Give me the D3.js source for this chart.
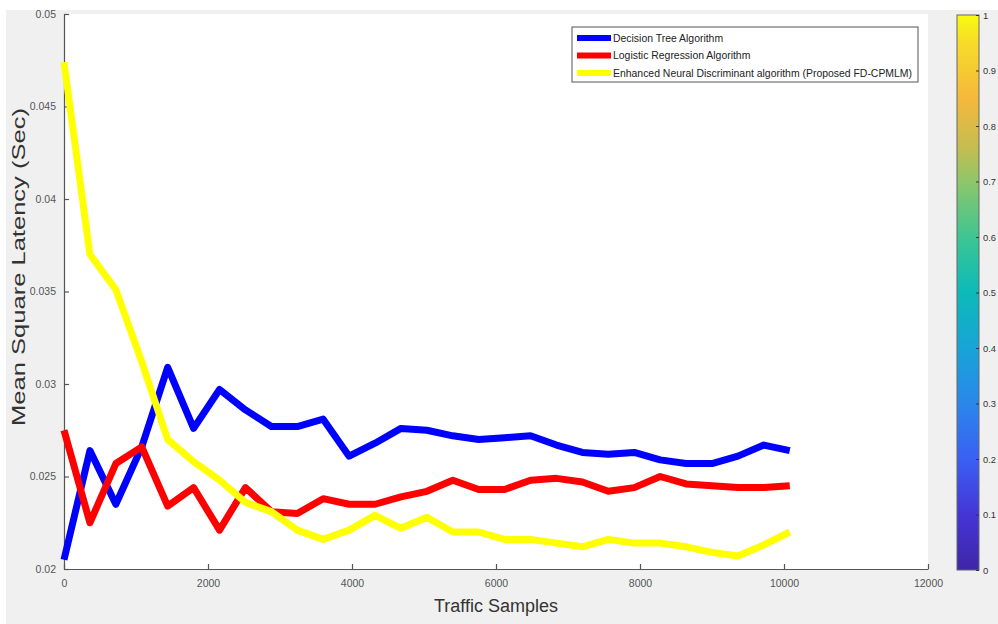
<!DOCTYPE html>
<html>
<head>
<meta charset="utf-8">
<script src="https://cdn.jsdelivr.net/npm/d3@7"></script>
<style>
    body { margin: 0; background: #ffffff; }
    svg { display: block; font-family: "Liberation Sans", Arial, sans-serif; }
</style>
</head>
<body>
<div id="plot"></div>
<script>
const samples = [0, 360, 720, 1080, 1440, 1800, 2160, 2520, 2880, 3240, 3600, 3960, 4320, 4680,
    5040, 5400, 5760, 6120, 6480, 6840, 7200, 7560, 7920, 8280, 8640, 9000, 9360, 9720, 10080];

const decisionTree = [0.0205, 0.0264, 0.0235, 0.0266, 0.0309, 0.0276, 0.0297, 0.0286, 0.0277, 0.0277,
    0.0281, 0.0261, 0.0268, 0.0276, 0.0275, 0.0272, 0.0270, 0.0271, 0.0272, 0.0267, 0.0263, 0.0262,
    0.0263, 0.0259, 0.0257, 0.0257, 0.0261, 0.0267, 0.0264];

const logisticRegression = [0.0275, 0.0225, 0.0257, 0.0266, 0.0234, 0.0244, 0.0221, 0.0244, 0.0231, 0.0230,
    0.0238, 0.0235, 0.0235, 0.0239, 0.0242, 0.0248, 0.0243, 0.0243, 0.0248, 0.0249, 0.0247, 0.0242,
    0.0244, 0.0250, 0.0246, 0.0245, 0.0244, 0.0244, 0.0245];

const enhancedNeural = [0.0474, 0.0370, 0.0351, 0.0312, 0.0270, 0.0258, 0.0248, 0.0236, 0.0231, 0.0221,
    0.0216, 0.0221, 0.0229, 0.0222, 0.0228, 0.0220, 0.0220, 0.0216, 0.0216, 0.0214, 0.0212, 0.0216,
    0.0214, 0.0214, 0.0212, 0.0209, 0.0207, 0.0213, 0.0220];

const seriesNames = [
    "Decision Tree Algorithm",
    "Logistic Regression Algorithm",
    "Enhanced Neural Discriminant algorithm (Proposed FD-CPMLM)"
];
const seriesColors = ["#0000ff", "#ff0000", "#ffff00"];

const xTicks = [0, 2000, 4000, 6000, 8000, 10000, 12000];
const yTicks = [0.02, 0.025, 0.03, 0.035, 0.04, 0.045, 0.05];
const colorbarTicks = [0, 0.1, 0.2, 0.3, 0.4, 0.5, 0.6, 0.7, 0.8, 0.9, 1];

// parula-like stops for the colour bar
const parulaStops = [
    [0.0, "#3e26a8"], [0.1, "#4535d6"], [0.2, "#3a60f3"], [0.3, "#2a87ea"],
    [0.4, "#18a4d7"], [0.5, "#0cbab8"], [0.6, "#3ec593"], [0.7, "#8ec66a"],
    [0.76, "#c4bd50"], [0.85, "#f5b83c"], [0.95, "#f6dc2a"], [1.0, "#f9fb0e"]
];

const width = 998;
const height = 624;
const plot = { left: 64, top: 14, right: 928, bottom: 569 };
const axisColor = "#555555";

const svg = d3.select("#plot")
    .append("svg")
    .attr("width", width)
    .attr("height", height);

// figure background
svg.append("rect")
    .attr("x", 6).attr("y", 10)
    .attr("width", width - 6).attr("height", height - 10)
    .attr("fill", "#f0f0f0");

svg.append("rect")
    .attr("x", plot.left).attr("y", plot.top)
    .attr("width", plot.right - plot.left)
    .attr("height", plot.bottom - plot.top)
    .attr("fill", "#ffffff");

const x = d3.scaleLinear().domain([0, 12000]).range([plot.left, plot.right]);
const y = d3.scaleLinear().domain([0.02, 0.05]).range([plot.bottom, plot.top]);

const xAxis = svg.append("g")
    .attr("transform", `translate(0,${plot.bottom})`)
    .call(d3.axisBottom(x).tickValues(xTicks).tickFormat(d3.format("d"))
        .tickSizeInner(-5).tickSizeOuter(0).tickPadding(11));

const yAxis = svg.append("g")
    .attr("transform", `translate(${plot.left},0)`)
    .call(d3.axisLeft(y).tickValues(yTicks).tickFormat(d => String(+d.toFixed(3)))
        .tickSizeInner(-5).tickSizeOuter(0).tickPadding(8));

[xAxis, yAxis].forEach(ax => {
    ax.select(".domain").attr("stroke", axisColor).attr("stroke-width", 1.2);
    ax.selectAll(".tick line").attr("stroke", axisColor).attr("stroke-width", 1.2);
    ax.selectAll(".tick text")
        .attr("fill", "#555555")
        .style("font-size", "10.5px");
});

// lines
const series = [decisionTree, logisticRegression, enhancedNeural];
const line = d3.line()
    .x((d, i) => x(samples[i]))
    .y(d => y(d));

svg.append("g")
    .selectAll("path")
    .data(series)
    .enter()
    .append("path")
    .attr("d", line)
    .attr("fill", "none")
    .attr("stroke", (d, i) => seriesColors[i])
    .attr("stroke-width", 7)
    .attr("stroke-linejoin", "round");

// axis titles
svg.append("text")
    .attr("x", 496)
    .attr("y", 612)
    .attr("text-anchor", "middle")
    .attr("fill", "#333333")
    .style("font-size", "18px")
    .text("Traffic Samples");

svg.append("text")
    .attr("transform", "translate(25,267) rotate(-90)")
    .attr("text-anchor", "middle")
    .attr("fill", "#333333")
    .style("font-size", "19px")
    .attr("textLength", 318)
    .attr("lengthAdjust", "spacingAndGlyphs")
    .text("Mean Square Latency (Sec)");

// legend
const legend = svg.append("g");
legend.append("rect")
    .attr("x", 572).attr("y", 27)
    .attr("width", 346).attr("height", 55)
    .attr("fill", "#ffffff")
    .attr("stroke", "#555555")
    .attr("stroke-width", 1);

const rows = legend.selectAll(".row")
    .data(seriesNames)
    .enter()
    .append("g")
    .attr("class", "row")
    .attr("transform", (d, i) => `translate(0,${38 + i * 17.5})`);

rows.append("line")
    .attr("x1", 577).attr("x2", 611)
    .attr("stroke", (d, i) => seriesColors[i])
    .attr("stroke-width", 6);

const labels = rows.append("text")
    .attr("x", 613)
    .attr("dy", "0.35em")
    .attr("fill", "#222222")
    .style("font-size", "11px")
    .text(d => d);

// squeeze the legend text to the width seen in the picture
const longest = d3.max(labels.nodes(), n => n.getComputedTextLength());
const squeeze = 299 / longest;
labels.each(function () {
    const w = this.getComputedTextLength();
    d3.select(this)
        .attr("textLength", w * squeeze)
        .attr("lengthAdjust", "spacingAndGlyphs");
});

// colour bar
const cb = { left: 957, right: 979, top: 15, bottom: 570 };
const grad = svg.append("defs")
    .append("linearGradient")
    .attr("id", "parula")
    .attr("x1", 0).attr("y1", 1)
    .attr("x2", 0).attr("y2", 0);

grad.selectAll("stop")
    .data(parulaStops)
    .enter()
    .append("stop")
    .attr("offset", d => d[0])
    .attr("stop-color", d => d[1]);

svg.append("rect")
    .attr("x", cb.left).attr("y", cb.top)
    .attr("width", cb.right - cb.left)
    .attr("height", cb.bottom - cb.top)
    .attr("fill", "url(#parula)")
    .attr("stroke", "#666666")
    .attr("stroke-width", 1);

const c = d3.scaleLinear().domain([0, 1]).range([cb.bottom, cb.top]);

const cbAxis = svg.append("g")
    .attr("transform", `translate(${cb.right},0)`)
    .call(d3.axisRight(c).tickValues(colorbarTicks).tickFormat(d => String(+d.toFixed(1)))
        .tickSizeInner(-3).tickSizeOuter(0).tickPadding(4));

cbAxis.select(".domain").remove();
cbAxis.selectAll(".tick line").attr("stroke", "#333333");
// labels kept narrow so they stay inside the 998px frame
cbAxis.selectAll(".tick text")
    .attr("fill", "#333333")
    .style("font-size", "9.5px")
    .attr("textLength", d => d === 0 || d === 1 ? null : 13)
    .attr("lengthAdjust", "spacingAndGlyphs");
</script>
</body>
</html>
